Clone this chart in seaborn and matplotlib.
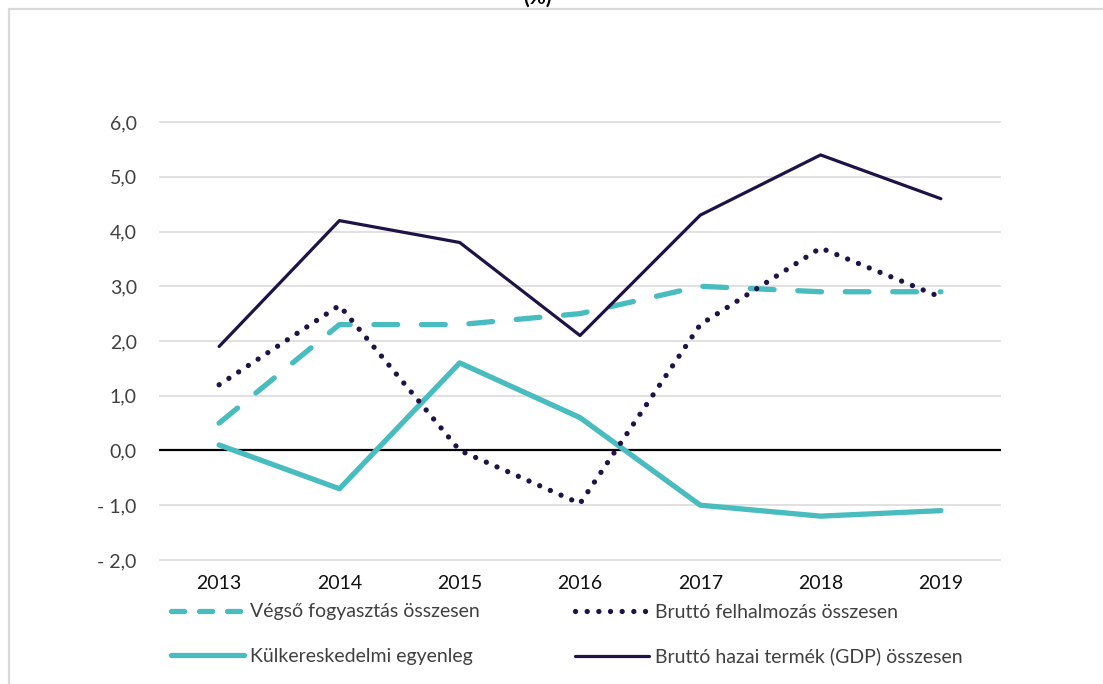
import numpy as np
import pandas as pd
import seaborn as sns
import matplotlib.pyplot as plt
from matplotlib.patches import Rectangle
from matplotlib.lines import Line2D

# ----------------- adatok -----------------
years = [2013, 2014, 2015, 2016, 2017, 2018, 2019]
vegso = [0.5, 2.3, 2.3, 2.5, 3.0, 2.9, 2.9]
felhalm = [1.2, 2.65, 0.0, -0.97, 2.3, 3.7, 2.8]
kulker = [0.1, -0.7, 1.6, 0.6, -1.0, -1.2, -1.1]
gdp = [1.9, 4.2, 3.8, 2.1, 4.3, 5.4, 4.6]
labels = ["Végső fogyasztás összesen", "Bruttó felhalmozás összesen",
          "Külkereskedelmi egyenleg", "Bruttó hazai termék (GDP) összesen"]
yticks = [-2, -1, 0, 1, 2, 3, 4, 5, 6]
ytick_labels = ["- 2,0", "- 1,0", "0,0", "1,0", "2,0", "3,0", "4,0", "5,0", "6,0"]

teal = "#48BCBE"
navy = "#1F1245"
dots = (0, (0.01, 2.2))

sns.set_style("white")
plt.rcParams['font.family'] = ['Lato', 'DejaVu Sans']

fig = plt.figure(figsize=(11.03, 6.84), dpi=100)
ax = fig.add_axes([159 / 1103, (684 - 561) / 684, 842 / 1103, 440 / 684])

# keret
fig.patches.append(Rectangle((8.5 / 1103, -0.1), 1.2, 1.1 - 9.5 / 684,
                             transform=fig.transFigure, fill=False,
                             edgecolor="#d9d9d9", lw=1.6))
# cím - a referencián is le van vágva
fig.text(537 / 1103, 1 - 8 / 684, "(%)", ha="center", va="bottom",
         fontsize=15, fontweight="bold", color="black")

for v in yticks:
    if v != 0:
        ax.axhline(v, color="#d9d9d9", lw=1.1, zorder=0)
ax.axhline(0, color="black", lw=1.6, zorder=1)

sns.lineplot(x=years, y=vegso, ax=ax, color=teal, lw=3.8, zorder=3,
             linestyle=(0, (4.5, 4.5)), dash_capstyle="round")
sns.lineplot(x=years, y=felhalm, ax=ax, color=navy, lw=3.8, zorder=4,
             linestyle=dots, dash_capstyle="round")
sns.lineplot(x=years, y=kulker, ax=ax, color=teal, lw=3.8, zorder=3)
sns.lineplot(x=years, y=gdp, ax=ax, color=navy, lw=2.3, zorder=4)

ax.set_xlim(2012.5, 2019.5)
ax.set_ylim(-2.02, 6.02)
ax.set_xticks(years)
ax.set_xticklabels([str(y) for y in years], fontsize=14, color="#111111")
ax.set_yticks(yticks)
ax.set_yticklabels(ytick_labels, fontsize=14, color="#404040")
ax.tick_params(axis="x", length=0, pad=10)
ax.tick_params(axis="y", length=0, pad=16)
sns.despine(ax=ax, left=True, bottom=True)

h_vegso = Line2D([], [], color=teal, lw=3.8, linestyle=(0, (2.5, 2.8)), dash_capstyle="round")
h_felhalm = Line2D([], [], color=navy, lw=3.8, linestyle=dots, dash_capstyle="round")
h_kulker = Line2D([], [], color=teal, lw=3.8)
h_gdp = Line2D([], [], color=navy, lw=2.3)
# oszlopfolytonos kitöltés miatt átrendezve
fig.legend([h_vegso, h_kulker, h_felhalm, h_gdp],
           [labels[0], labels[2], labels[1], labels[3]],
           ncol=2, loc="upper left",
           bbox_to_anchor=(153 / 1103, 1 - 586 / 684), frameon=False,
           fontsize=14, handlelength=3.8, handletextpad=0.3,
           columnspacing=4.9, labelspacing=1.4, labelcolor="#404040")

fig.savefig("out.png", dpi=100)
